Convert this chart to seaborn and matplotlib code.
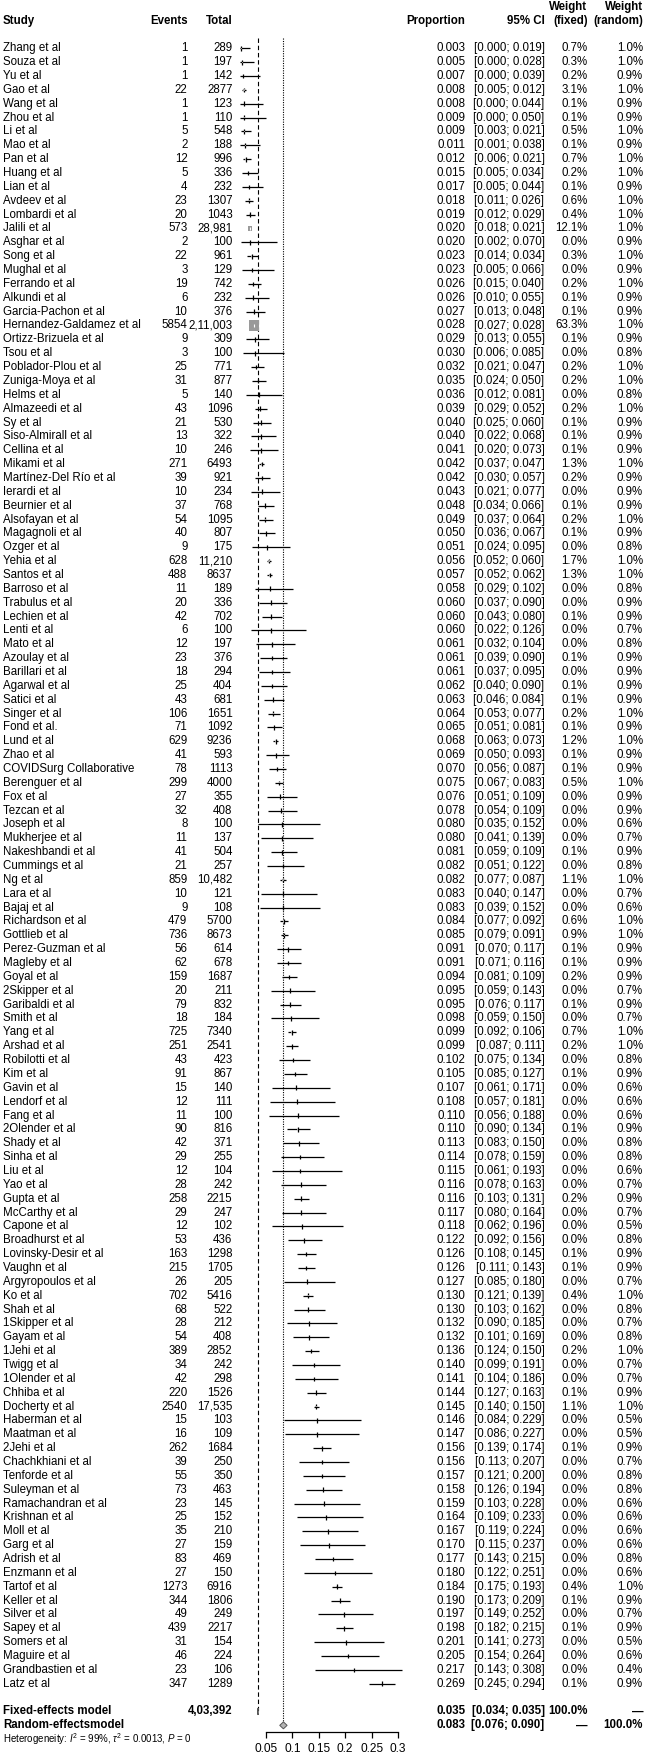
import matplotlib
matplotlib.use("Agg")
import matplotlib.pyplot as plt
import numpy as np
import pandas as pd
import seaborn as sns

# ---- data ----
studies = [
    "Zhang et al", "Souza et al", "Yu et al", "Gao et al", "Wang et al", "Zhou et al", "Li et al",
    "Mao et al", "Pan et al", "Huang et al", "Lian et al", "Avdeev et al", "Lombardi et al",
    "Jalili et al", "Asghar et al", "Song et al", "Mughal et al", "Ferrando et al", "Alkundi et al",
    "Garcia-Pachon et al", "Hernandez-Galdamez et al", "Ortizz-Brizuela et al", "Tsou et al",
    "Poblador-Plou et al", "Zuniga-Moya et al", "Helms et al", "Almazeedi et al", "Sy et al",
    "Siso-Almirall et al", "Cellina et al", "Mikami et al", "Martínez-Del Río et al", "Ierardi et al",
    "Beurnier et al", "Alsofayan et al", "Magagnoli et al", "Ozger et al", "Yehia et al",
    "Santos et al", "Barroso et al", "Trabulus et al", "Lechien et al", "Lenti et al", "Mato et al",
    "Azoulay et al", "Barillari et al", "Agarwal et al", "Satici et al", "Singer et al",
    "Fond et al.", "Lund et al", "Zhao et al", "COVIDSurg Collaborative", "Berenguer et al",
    "Fox et al", "Tezcan et al", "Joseph et al", "Mukherjee et al", "Nakeshbandi et al",
    "Cummings et al", "Ng et al", "Lara et al", "Bajaj et al", "Richardson et al", "Gottlieb et al",
    "Perez-Guzman et al", "Magleby et al", "Goyal et al", "2Skipper et al", "Garibaldi et al",
    "Smith et al", "Yang et al", "Arshad et al", "Robilotti et al", "Kim et al", "Gavin et al",
    "Lendorf et al", "Fang et al", "2Olender et al", "Shady et al", "Sinha et al", "Liu et al",
    "Yao et al", "Gupta et al", "McCarthy et al", "Capone et al", "Broadhurst et al",
    "Lovinsky-Desir et al", "Vaughn et al", "Argyropoulos et al", "Ko et al", "Shah et al",
    "1Skipper et al", "Gayam et al", "1Jehi et al", "Twigg et al", "1Olender et al", "Chhiba et al",
    "Docherty et al", "Haberman et al", "Maatman et al", "2Jehi et al", "Chachkhiani et al",
    "Tenforde et al", "Suleyman et al", "Ramachandran et al", "Krishnan et al", "Moll et al",
    "Garg et al", "Adrish et al", "Enzmann et al", "Tartof et al", "Keller et al", "Silver et al",
    "Sapey et al", "Somers et al", "Maguire et al", "Grandbastien et al", "Latz et al",
]
events = [
    1, 1, 1, 22, 1, 1, 5, 2, 12, 5, 4, 23, 20, 573, 2, 22, 3, 19, 6, 10, 5854, 9, 3, 25, 31, 5, 43,
    21, 13, 10, 271, 39, 10, 37, 54, 40, 9, 628, 488, 11, 20, 42, 6, 12, 23, 18, 25, 43, 106, 71,
    629, 41, 78, 299, 27, 32, 8, 11, 41, 21, 859, 10, 9, 479, 736, 56, 62, 159, 20, 79, 18, 725,
    251, 43, 91, 15, 12, 11, 90, 42, 29, 12, 28, 258, 29, 12, 53, 163, 215, 26, 702, 68, 28, 54,
    389, 34, 42, 220, 2540, 15, 16, 262, 39, 55, 73, 23, 25, 35, 27, 83, 27, 1273, 344, 49, 439,
    31, 46, 23, 347,
]
totals = [
    "289", "197", "142", "2877", "123", "110", "548", "188", "996", "336", "232", "1307", "1043",
    "28,981", "100", "961", "129", "742", "232", "376", "2,11,003", "309", "100", "771", "877",
    "140", "1096", "530", "322", "246", "6493", "921", "234", "768", "1095", "807", "175",
    "11,210", "8637", "189", "336", "702", "100", "197", "376", "294", "404", "681", "1651",
    "1092", "9236", "593", "1113", "4000", "355", "408", "100", "137", "504", "257", "10,482",
    "121", "108", "5700", "8673", "614", "678", "1687", "211", "832", "184", "7340", "2541",
    "423", "867", "140", "111", "100", "816", "371", "255", "104", "242", "2215", "247", "102",
    "436", "1298", "1705", "205", "5416", "522", "212", "408", "2852", "242", "298", "1526",
    "17,535", "103", "109", "1684", "250", "350", "463", "145", "152", "210", "159", "469",
    "150", "6916", "1806", "249", "2217", "154", "224", "106", "1289",
]
prop = [
    0.003, 0.005, 0.007, 0.008, 0.008, 0.009, 0.009, 0.011, 0.012, 0.015, 0.017, 0.018, 0.019,
    0.020, 0.020, 0.023, 0.023, 0.026, 0.026, 0.027, 0.028, 0.029, 0.030, 0.032, 0.035, 0.036,
    0.039, 0.040, 0.040, 0.041, 0.042, 0.042, 0.043, 0.048, 0.049, 0.050, 0.051, 0.056, 0.057,
    0.058, 0.060, 0.060, 0.060, 0.061, 0.061, 0.061, 0.062, 0.063, 0.064, 0.065, 0.068, 0.069,
    0.070, 0.075, 0.076, 0.078, 0.080, 0.080, 0.081, 0.082, 0.082, 0.083, 0.083, 0.084, 0.085,
    0.091, 0.091, 0.094, 0.095, 0.095, 0.098, 0.099, 0.099, 0.102, 0.105, 0.107, 0.108, 0.110,
    0.110, 0.113, 0.114, 0.115, 0.116, 0.116, 0.117, 0.118, 0.122, 0.126, 0.126, 0.127, 0.130,
    0.130, 0.132, 0.132, 0.136, 0.140, 0.141, 0.144, 0.145, 0.146, 0.147, 0.156, 0.156, 0.157,
    0.158, 0.159, 0.164, 0.167, 0.170, 0.177, 0.180, 0.184, 0.190, 0.197, 0.198, 0.201, 0.205,
    0.217, 0.269,
]
ci_low = [
    0.000, 0.000, 0.000, 0.005, 0.000, 0.000, 0.003, 0.001, 0.006, 0.005, 0.005, 0.011, 0.012,
    0.018, 0.002, 0.014, 0.005, 0.015, 0.010, 0.013, 0.027, 0.013, 0.006, 0.021, 0.024, 0.012,
    0.029, 0.025, 0.022, 0.020, 0.037, 0.030, 0.021, 0.034, 0.037, 0.036, 0.024, 0.052, 0.052,
    0.029, 0.037, 0.043, 0.022, 0.032, 0.039, 0.037, 0.040, 0.046, 0.053, 0.051, 0.063, 0.050,
    0.056, 0.067, 0.051, 0.054, 0.035, 0.041, 0.059, 0.051, 0.077, 0.040, 0.039, 0.077, 0.079,
    0.070, 0.071, 0.081, 0.059, 0.076, 0.059, 0.092, 0.087, 0.075, 0.085, 0.061, 0.057, 0.056,
    0.090, 0.083, 0.078, 0.061, 0.078, 0.103, 0.080, 0.062, 0.092, 0.108, 0.111, 0.085, 0.121,
    0.103, 0.090, 0.101, 0.124, 0.099, 0.104, 0.127, 0.140, 0.084, 0.086, 0.139, 0.113, 0.121,
    0.126, 0.103, 0.109, 0.119, 0.115, 0.143, 0.122, 0.175, 0.173, 0.149, 0.182, 0.141, 0.154,
    0.143, 0.245,
]
ci_high = [
    0.019, 0.028, 0.039, 0.012, 0.044, 0.050, 0.021, 0.038, 0.021, 0.034, 0.044, 0.026, 0.029,
    0.021, 0.070, 0.034, 0.066, 0.040, 0.055, 0.048, 0.028, 0.055, 0.085, 0.047, 0.050, 0.081,
    0.052, 0.060, 0.068, 0.073, 0.047, 0.057, 0.077, 0.066, 0.064, 0.067, 0.095, 0.060, 0.062,
    0.102, 0.090, 0.080, 0.126, 0.104, 0.090, 0.095, 0.090, 0.084, 0.077, 0.081, 0.073, 0.093,
    0.087, 0.083, 0.109, 0.109, 0.152, 0.139, 0.109, 0.122, 0.087, 0.147, 0.152, 0.092, 0.091,
    0.117, 0.116, 0.109, 0.143, 0.117, 0.150, 0.106, 0.111, 0.134, 0.127, 0.171, 0.181, 0.188,
    0.134, 0.150, 0.159, 0.193, 0.163, 0.131, 0.164, 0.196, 0.156, 0.145, 0.143, 0.180, 0.139,
    0.162, 0.185, 0.169, 0.150, 0.191, 0.186, 0.163, 0.150, 0.229, 0.227, 0.174, 0.207, 0.200,
    0.194, 0.228, 0.233, 0.224, 0.237, 0.215, 0.251, 0.193, 0.209, 0.252, 0.215, 0.273, 0.264,
    0.308, 0.294,
]
w_fixed = [
    0.7, 0.3, 0.2, 3.1, 0.1, 0.1, 0.5, 0.1, 0.7, 0.2, 0.1, 0.6, 0.4, 12.1, 0.0, 0.3, 0.0, 0.2, 0.1,
    0.1, 63.3, 0.1, 0.0, 0.2, 0.2, 0.0, 0.2, 0.1, 0.1, 0.1, 1.3, 0.2, 0.0, 0.1, 0.2, 0.1, 0.0, 1.7,
    1.3, 0.0, 0.0, 0.1, 0.0, 0.0, 0.1, 0.0, 0.1, 0.1, 0.2, 0.1, 1.2, 0.1, 0.1, 0.5, 0.0, 0.0, 0.0,
    0.0, 0.1, 0.0, 1.1, 0.0, 0.0, 0.6, 0.9, 0.1, 0.1, 0.2, 0.0, 0.1, 0.0, 0.7, 0.2, 0.0, 0.1, 0.0,
    0.0, 0.0, 0.1, 0.0, 0.0, 0.0, 0.0, 0.2, 0.0, 0.0, 0.0, 0.1, 0.1, 0.0, 0.4, 0.0, 0.0, 0.0, 0.2,
    0.0, 0.0, 0.1, 1.1, 0.0, 0.0, 0.1, 0.0, 0.0, 0.0, 0.0, 0.0, 0.0, 0.0, 0.0, 0.0, 0.4, 0.1, 0.0,
    0.1, 0.0, 0.0, 0.0, 0.1,
]
w_random = [
    1.0, 1.0, 0.9, 1.0, 0.9, 0.9, 1.0, 0.9, 1.0, 1.0, 0.9, 1.0, 1.0, 1.0, 0.9, 1.0, 0.9, 1.0, 0.9,
    0.9, 1.0, 0.9, 0.8, 1.0, 1.0, 0.8, 1.0, 0.9, 0.9, 0.9, 1.0, 0.9, 0.9, 0.9, 1.0, 0.9, 0.8, 1.0,
    1.0, 0.8, 0.9, 0.9, 0.7, 0.8, 0.9, 0.9, 0.9, 0.9, 1.0, 0.9, 1.0, 0.9, 0.9, 1.0, 0.9, 0.9, 0.6,
    0.7, 0.9, 0.8, 1.0, 0.7, 0.6, 1.0, 1.0, 0.9, 0.9, 0.9, 0.7, 0.9, 0.7, 1.0, 1.0, 0.8, 0.9, 0.6,
    0.6, 0.6, 0.9, 0.8, 0.8, 0.6, 0.7, 0.9, 0.7, 0.5, 0.8, 0.9, 0.9, 0.7, 1.0, 0.8, 0.7, 0.8, 1.0,
    0.7, 0.7, 0.9, 1.0, 0.5, 0.5, 0.9, 0.7, 0.8, 0.8, 0.6, 0.6, 0.6, 0.6, 0.8, 0.6, 1.0, 0.9, 0.7,
    0.9, 0.5, 0.6, 0.4, 0.9,
]

fixed_est, fixed_low, fixed_high = 0.035, 0.034, 0.035
random_est, random_low, random_high = 0.083, 0.076, 0.090
total_n = "4,03,392"
heterogeneity = r"Heterogeneity: $I^2$ = 99%, $\tau^2$ = 0.0013, $P$ = 0"
x_ticks = [0.05, 0.1, 0.15, 0.2, 0.25, 0.3]
x_tick_labels = ["0.05", "0.1", "0.15", "0.2", "0.25", "0.3"]

# ---- style ----
sns.set_theme(style="white")
plt.rcParams["font.family"] = ["Liberation Sans", "DejaVu Sans"]
plt.rcParams["mathtext.fontset"] = "custom"
plt.rcParams["mathtext.rm"] = "Liberation Sans"
plt.rcParams["mathtext.it"] = "Liberation Sans:italic"
FS = 8.3

df = pd.DataFrame({
    "study": studies, "events": events, "total": totals, "prop": prop,
    "lo": ci_low, "hi": ci_high, "wf": w_fixed, "wr": w_random,
})
df["row"] = np.arange(len(df))
n = len(df)
fixed_row = n + 1
random_row = n + 2
het_row = n + 3

fig = plt.figure(figsize=(6.46, 17.59), dpi=100)
ax = fig.add_axes([0, 0, 1, 1])
# x: proportion scale, 528 px per unit with 0 at px 239.6; y: one unit per row
ax.set_xlim(-239.6 / 528, (646 - 239.6) / 528)
ax.set_ylim((1759 - 48.3) / 13.86, -48.3 / 13.86)

# reference lines: fixed (dashed) and random (dotted)
ax.vlines(fixed_est, -0.75, fixed_row, color="black", lw=0.8, linestyles=(0, (4, 2.5)))
ax.vlines(random_est, -0.75, random_row - 0.25, color="black", lw=0.8, linestyles=(0, (1, 1.2)))

# confidence intervals and estimate ticks
ax.hlines(df["row"], df["lo"], df["hi"], color="black", lw=0.9)
small = df[df["wf"] < 10]
ax.vlines(small["prop"], small["row"] - 0.17, small["row"] + 0.17, color="black", lw=0.9)

# weighted squares
sns.scatterplot(data=df, x="prop", y="row", size="wf", sizes=(0, 52), size_norm=(0, 63.3),
                marker="s", color="#9a9a9a", edgecolor="none", linewidth=0,
                legend=False, ax=ax, zorder=3)
big = df[df["wf"] >= 10]
ax.vlines(big["prop"], big["row"] - 0.12, big["row"] + 0.12, color="white", lw=0.8, zorder=4)

# summary diamonds
for est, lo, hi, r in [(fixed_est, fixed_low, fixed_high, fixed_row),
                       (random_est, random_low, random_high, random_row)]:
    ax.fill([lo, est, hi, est], [r, r - 0.25, r, r + 0.25], facecolor="#b4b4b4",
            edgecolor="#555555", lw=0.7, zorder=4)

# x axis
for side in ["top", "left", "right"]:
    ax.spines[side].set_visible(False)
ax.spines["bottom"].set_position(("data", random_row + 0.5))
ax.spines["bottom"].set_bounds(x_ticks[0], x_ticks[-1])
ax.spines["bottom"].set_linewidth(0.9)
ax.spines["bottom"].set_color("black")
ax.set_xticks(x_ticks)
ax.set_xticklabels(x_tick_labels, fontsize=8.6)
ax.tick_params(axis="x", direction="out", length=4, width=0.9, pad=4, bottom=True, colors="black")
ax.set_yticks([])
ax.set_xlabel("")
ax.set_ylabel("")

# text columns (x in axes fraction, y in rows)
tr = ax.get_yaxis_transform()
col = {"study": 3 / 646, "events": 187.5 / 646, "total": 232.5 / 646, "prop": 465.5 / 646,
       "ci": 544.5 / 646, "wf": 587.5 / 646, "wr": 643 / 646}

def put(x, y, s, ha="right", bold=False, size=FS):
    ax.text(x, y, s, transform=tr, ha=ha, va="center", fontsize=size,
            fontweight="bold" if bold else "normal", color="black")

put(col["study"], -2, "Study", ha="left", bold=True)
put(col["events"], -2, "Events", bold=True)
put(col["total"], -2, "Total", bold=True)
put(col["prop"], -2, "Proportion", bold=True)
put(col["ci"], -2, "95% CI", bold=True)
put(col["wf"], -3, "Weight", bold=True)
put(col["wf"], -2, "(fixed)", bold=True)
put(col["wr"], -3, "Weight", bold=True)
put(col["wr"], -2, "(random)", bold=True)

for _, r in df.iterrows():
    y = r["row"]
    put(col["study"], y, r["study"], ha="left")
    put(col["events"], y, str(r["events"]))
    put(col["total"], y, r["total"])
    put(col["prop"], y, f"{r['prop']:.3f}")
    put(col["ci"], y, f"[{r['lo']:.3f}; {r['hi']:.3f}]")
    put(col["wf"], y, f"{r['wf']:.1f}%")
    put(col["wr"], y, f"{r['wr']:.1f}%")

put(col["study"], fixed_row, "Fixed-effects model", ha="left", bold=True)
put(col["total"], fixed_row, total_n, bold=True)
put(col["prop"], fixed_row, f"{fixed_est:.3f}", bold=True)
put(col["ci"], fixed_row, f"[{fixed_low:.3f}; {fixed_high:.3f}]", bold=True)
put(col["wf"], fixed_row, "100.0%", bold=True)
put(col["wr"], fixed_row, "\u2014", bold=True)

put(col["study"], random_row, "Random-effectsmodel", ha="left", bold=True)
put(col["prop"], random_row, f"{random_est:.3f}", bold=True)
put(col["ci"], random_row, f"[{random_low:.3f}; {random_high:.3f}]", bold=True)
put(col["wf"], random_row, "\u2014", bold=True)
put(col["wr"], random_row, "100.0%", bold=True)

put(col["study"], het_row, heterogeneity, ha="left", size=FS - 1.3)

fig.savefig("out.png", dpi=100, facecolor="white")
